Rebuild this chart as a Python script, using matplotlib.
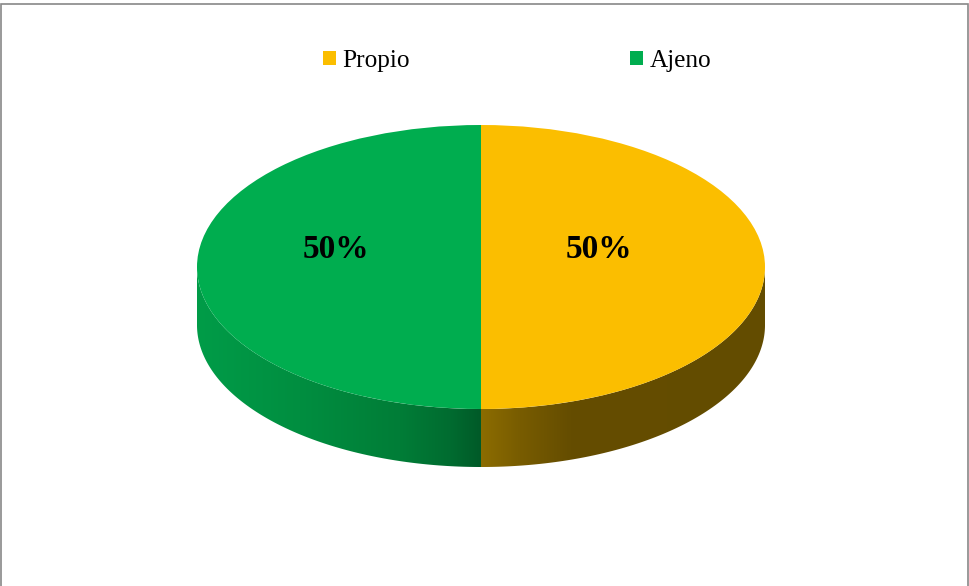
import numpy as np
import matplotlib
matplotlib.use("Agg")
import matplotlib.pyplot as plt
from matplotlib.patches import Polygon, Rectangle
from matplotlib.colors import to_rgb

categories = ["Propio", "Ajeno"]
values = [50, 50]
top_colors = ["#FBBE00", "#00AD4F"]
pct_labels = ["50%", "50%"]

W, H = 970, 586
fig = plt.figure(figsize=(W / 100, H / 100), dpi=100)
ax = fig.add_axes([0, 0, 1, 1])

S = 2.0                     # vertical squash factor (rx / ry)
cx, cy_px = 481, 267
rx = 284
depth_px = 58


def yd(ypx):
    return (H - ypx) * S


cy = yd(cy_px)
depth = depth_px * S

wedges, texts, autotexts = ax.pie(values, colors=top_colors, startangle=90,
                                  counterclock=False, center=(cx, cy), radius=rx,
                                  autopct="%1.0f%%", pctdistance=0.45,
                                  wedgeprops=dict(linewidth=0, zorder=3),
                                  textprops=dict(zorder=5))
ax.set_aspect("auto")
ax.set_xlim(0, W)
ax.set_ylim(0, H * S)
ax.axis("off")

# side walls with horizontal gradients
def side(theta0, theta1, stops):
    t = np.radians(np.linspace(theta0, theta1, 200))
    xs = cx + rx * np.cos(t)
    ys = cy + rx * np.sin(t)
    pts = np.concatenate([np.column_stack([xs, ys]),
                          np.column_stack([xs[::-1], ys[::-1] - depth])])
    poly = Polygon(pts, closed=True, facecolor="none", edgecolor="none")
    ax.add_patch(poly)
    x0, x1 = xs.min(), xs.max()
    gx = np.linspace(x0, x1, 400)
    sx = [s[0] for s in stops]
    cols = np.array([to_rgb(s[1]) for s in stops])
    img = np.stack([np.interp(gx, sx, cols[:, k]) for k in range(3)], axis=-1)[None, :, :]
    im = ax.imshow(img, extent=[x0, x1, ys.min() - depth, ys.max()],
                   aspect="auto", zorder=2, interpolation="bilinear")
    im.set_clip_path(poly)

side(-90, 0, [(481, "#8C6C00"), (520, "#785C00"), (570, "#654D00"), (765, "#634C00")])
side(180, 270, [(197, "#009C48"), (300, "#008E40"), (400, "#007D37"),
                (450, "#006C30"), (481, "#005A28")])

# percentage labels
label_pos = [(599, 250), (336, 250)]
for t, lab, (px, py) in zip(autotexts, pct_labels, label_pos):
    t.set_text(lab)
    t.set_position((px, yd(py)))
    t.set_fontfamily("Liberation Serif")
    t.set_fontweight("bold")
    t.set_fontsize(24)
    t.set_color("black")
    t.set_ha("center")
    t.set_va("center")

leg = fig.legend(wedges, categories, loc="center", bbox_to_anchor=(517 / W, 1 - 61 / H),
                 ncol=2, frameon=False, prop=dict(family="Liberation Serif", size=18.2),
                 handlelength=0.52, handleheight=0.52, handletextpad=0.25,
                 columnspacing=8.7, borderpad=0)

fig.patches.append(Rectangle((1.5 / W, -0.1), (968 - 1.5) / W, 1.1 - 4 / H,
                             transform=fig.transFigure, fill=False,
                             edgecolor="#888888", linewidth=1.2))

fig.savefig("out.png", dpi=100)
